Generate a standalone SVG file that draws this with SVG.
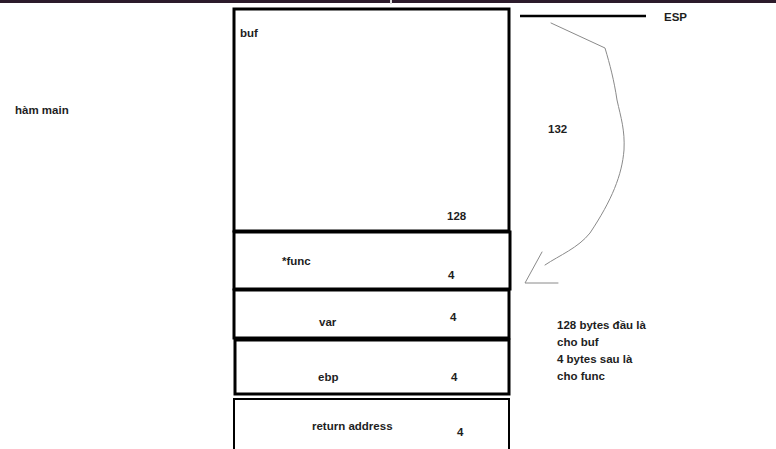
<svg xmlns="http://www.w3.org/2000/svg" width="776" height="449" viewBox="0 0 776 449">
<style>
text{font-family:"Liberation Sans",Arial,sans-serif;font-weight:bold;font-size:11.5px;fill:#1e1e1e}
.box{fill:#fff;stroke:#000}
.sketch{fill:none;stroke:#8a8a8a;stroke-width:1;stroke-linejoin:round;stroke-linecap:round}
</style>
<rect x="0" y="0" width="776" height="449" fill="#fff"/>
<rect x="0" y="0" width="776" height="3" fill="#2c1b2b"/>
<rect x="390" y="0" width="2" height="4" fill="#ddd"/>
<g id="hammain"><text x="15" y="114">hàm main</text></g>
<g id="buf">
<rect class="box" x="234" y="9" width="275" height="222" stroke-width="3"/>
<text x="240" y="37">buf</text>
<text x="447" y="220">128</text>
</g>
<g id="func">
<rect class="box" x="234" y="232" width="276" height="57" stroke-width="3"/>
<text x="282" y="265">*func</text>
<text x="448" y="279">4</text>
</g>
<g id="var">
<rect class="box" x="234" y="290" width="275" height="48" stroke-width="3"/>
<text x="319" y="326">var</text>
<text x="450" y="321">4</text>
</g>
<g id="ebp">
<rect class="box" x="235" y="340" width="274" height="54" stroke-width="3"/>
<text x="318" y="381">ebp</text>
<text x="451" y="381">4</text>
</g>
<g id="ret">
<rect class="box" x="234" y="399" width="275" height="60" stroke-width="2"/>
<text x="312" y="430">return address</text>
<text x="457" y="436">4</text>
</g>
<g id="esp">
<line x1="520" y1="16" x2="646" y2="16" stroke="#000" stroke-width="2.5"/>
<text x="664" y="21">ESP</text>
</g>
<g id="connectors">
<path class="sketch" d="M551,23 L605,48 C610,65 614,80 617,100 C621,118 625,130 624,150 C622,175 612,200 590,233 C578,248 560,255 545,265"/>
<path class="sketch" d="M542,252 L525,283 L558,283"/>
</g>
<g id="label132"><text x="548" y="133">132</text></g>
<g id="note">
<text x="557" y="329">128 bytes đầu là</text>
<text x="557" y="346">cho buf</text>
<text x="557" y="363">4 bytes sau là</text>
<text x="557" y="380">cho func</text>
</g>
</svg>
